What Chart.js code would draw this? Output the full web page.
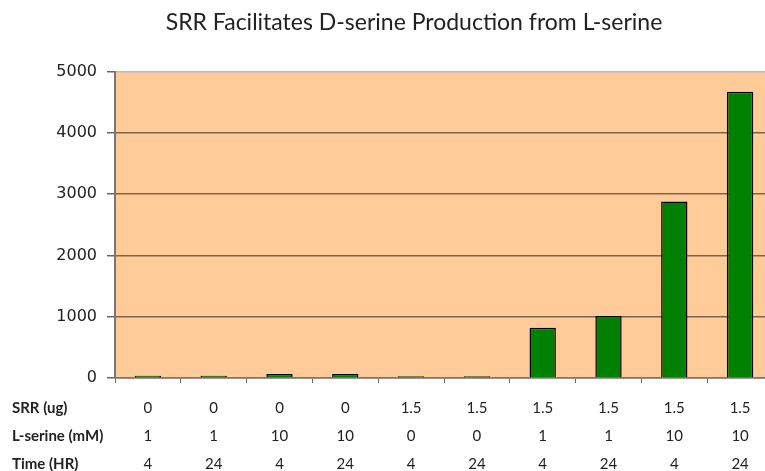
<!DOCTYPE html>
<html>
<head>
<meta charset="utf-8">
<script src="https://cdn.jsdelivr.net/npm/chart.js@4.4.0/dist/chart.umd.min.js"></script>
<style>
  html, body { margin: 0; padding: 0; background: #fff; overflow: hidden; }
  #wrap { position: absolute; left: 0; top: 0; width: 773px; height: 471px; }
</style>
</head>
<body>
<div id="wrap"><canvas id="chart"></canvas></div>
<script>
// --- data ---
const srrUg = ["0", "0", "0", "0", "1.5", "1.5", "1.5", "1.5", "1.5", "1.5"];
const lSerineMM = ["1", "1", "10", "10", "0", "0", "1", "1", "10", "10"];
const timeHr = ["4", "24", "4", "24", "4", "24", "4", "24", "4", "24"];
const dSerine = [35, 35, 65, 65, 30, 30, 820, 1010, 2880, 4670];
const rowTitles = ["SRR (ug)", "L-serine (mM)", "Time (HR)"];
const yTicks = [0, 1000, 2000, 3000, 4000, 5000];

const labels = srrUg.map((s, i) => [s, lSerineMM[i], timeHr[i]]);

const LINE_H = 28;

// plot background + row headings on the left
const plotBg = {
  id: "plotBg",
  beforeDraw(chart) {
    const { ctx, chartArea: a } = chart;
    ctx.save();
    ctx.fillStyle = "#ffcc99";
    ctx.fillRect(a.left, a.top, a.right - a.left, a.bottom - a.top);
    ctx.restore();
  },
  afterDraw(chart) {
    const { ctx } = chart;
    const x = chart.scales.x;
    const opts = x.options;
    const y0 = x.top + opts.grid.tickLength + opts.ticks.padding;
    ctx.save();
    ctx.font = "bold 15px Lato, 'Open Sans', sans-serif";
    ctx.fillStyle = "#222";
    ctx.textBaseline = "middle";
    ctx.textAlign = "left";
    rowTitles.forEach((t, i) => {
      ctx.fillText(t, 12, y0 + i * LINE_H + LINE_H / 2);
    });
    ctx.restore();
  }
};

new Chart(document.getElementById("chart"), {
  type: "bar",
  data: {
    labels,
    datasets: [{
      data: dSerine,
      backgroundColor: "#008000",
      borderColor: "#000",
      borderWidth: 1.5,
      barPercentage: 0.4,
      categoryPercentage: 1
    }]
  },
  options: {
    responsive: true,
    maintainAspectRatio: false,
    animation: false,
    layout: { padding: { left: 55, right: 0, top: 0, bottom: 0 } },
    plugins: {
      legend: { display: false },
      tooltip: { enabled: false },
      title: {
        display: true,
        text: "SRR Facilitates D-serine Production from L-serine",
        color: "#222",
        font: { family: "Lato, 'Open Sans', sans-serif", size: 23, weight: "normal" },
        padding: { top: 9, bottom: 35 }
      }
    },
    scales: {
      x: {
        afterFit(scale) {
          scale.height = 93;
        },
        grid: {
          drawOnChartArea: false,
          drawTicks: true,
          tickLength: 5,
          color: "#666",
          offset: true
        },
        border: { color: "#777", width: 1.5 },
        ticks: {
          color: "#222",
          padding: 11,
          maxRotation: 0,
          autoSkip: false,
          font: { family: "Lato, 'Open Sans', sans-serif", size: 15, lineHeight: LINE_H + "px" }
        }
      },
      y: {
        min: 0,
        max: 5000,
        afterBuildTicks(scale) {
          scale.ticks = yTicks.map(v => ({ value: v }));
        },
        afterFit(scale) {
          scale.width = 60;
        },
        grid: {
          color: ctx => (ctx.tick && ctx.tick.value === 5000 ? "#bbb" : "#7a6650"),
          lineWidth: 1.5,
          tickLength: 8,
          tickColor: "#666"
        },
        border: { color: "#777", width: 2 },
        ticks: {
          color: "#222",
          padding: 10,
          callback: v => String(v),
          font: { family: "'DejaVu Sans', sans-serif", size: 16 }
        }
      }
    }
  },
  plugins: [plotBg]
});
</script>
</body>
</html>
